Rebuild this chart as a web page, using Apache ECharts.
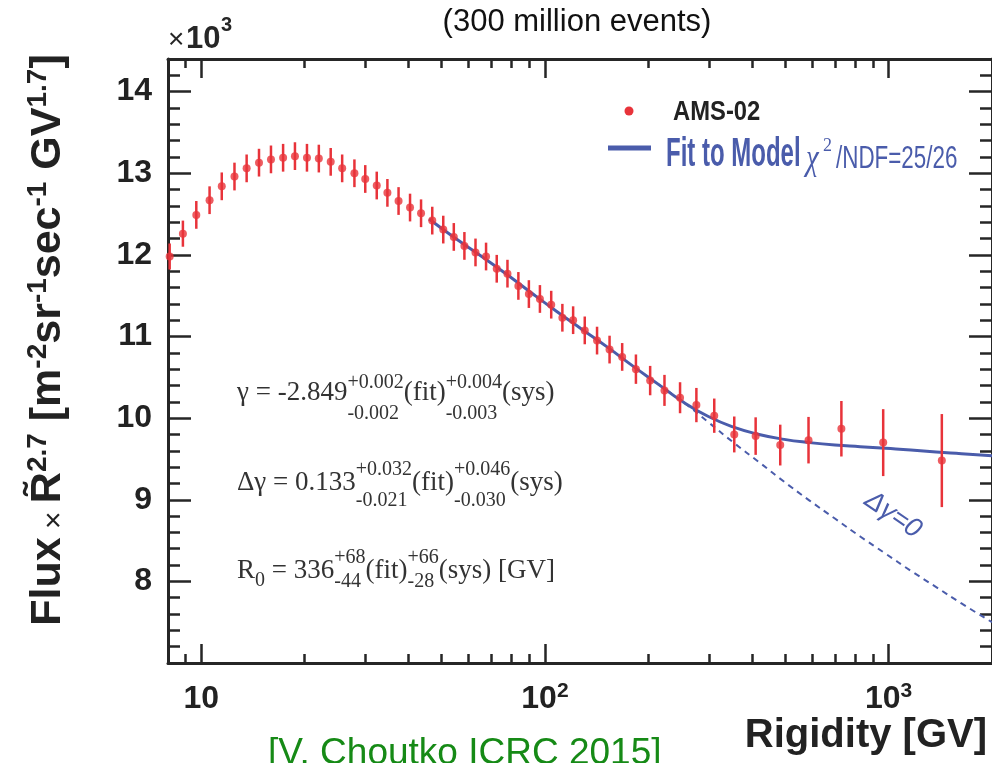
<!DOCTYPE html>
<html>
<head>
<meta charset="utf-8">
<script src="https://cdn.jsdelivr.net/npm/echarts@6/dist/echarts.min.js"></script>
<style>
  html, body { margin: 0; padding: 0; background: #fff; }
  #main { width: 992px; height: 763px; }
</style>
</head>
<body>
<div id="main"></div>
<script>
// proton flux x R^2.7 (units of 10^3)
var rigidity = [8.09, 8.84, 9.67, 10.57, 11.47, 12.49, 13.55, 14.72, 15.95, 17.3, 18.73, 20.3, 21.98, 23.8,
  25.7, 27.9, 30.0, 32.4, 34.8, 37.5, 40.5, 43.6, 47.0, 50.6, 54.3, 58.3, 62.8, 67.4, 72.4, 77.8, 83.7, 89.8,
  96.7, 104.3, 112.4, 120.8, 130.6, 141.8, 154.2, 167.8, 184, 202.4, 222.8, 247.3, 275.9, 311, 355.6, 410.4,
  483.9, 584.9, 729, 964.7, 1429];
var flux = [11.98, 12.26, 12.49, 12.67, 12.84, 12.96, 13.06, 13.13, 13.17, 13.19, 13.21, 13.19, 13.18, 13.14,
  13.06, 13.00, 12.93, 12.85, 12.76, 12.66, 12.58, 12.51, 12.42, 12.31, 12.22, 12.11, 12.03, 11.98, 11.83, 11.77,
  11.62, 11.52, 11.46, 11.39, 11.23, 11.20, 11.075, 10.95, 10.84, 10.75, 10.60, 10.46, 10.34, 10.25, 10.16, 10.03,
  9.80, 9.78, 9.67, 9.73, 9.87, 9.70, 9.48];
var fluxErr = [0.16, 0.16, 0.17, 0.17, 0.17, 0.17, 0.17, 0.17, 0.17, 0.17, 0.17, 0.17, 0.17, 0.17,
  0.17, 0.17, 0.17, 0.17, 0.17, 0.17, 0.17, 0.17, 0.17, 0.17, 0.17, 0.17, 0.17, 0.17, 0.17, 0.17,
  0.17, 0.17, 0.17, 0.17, 0.17, 0.17, 0.17, 0.17, 0.17, 0.17, 0.18, 0.18, 0.19, 0.19, 0.21, 0.21,
  0.22, 0.23, 0.25, 0.285, 0.34, 0.41, 0.57];

// broken power-law fit and the unbroken (delta gamma = 0) extrapolation
var fitR = [46, 55, 65, 77, 91, 108, 128, 152, 180, 213, 252, 299, 354, 420, 497, 589, 698, 827, 980, 1161, 1376, 1630, 2000];
var fitFlux = [12.44, 12.20, 11.99, 11.77, 11.54, 11.31, 11.09, 10.87, 10.64, 10.42, 10.20, 10.02, 9.89, 9.80,
  9.74, 9.70, 9.67, 9.65, 9.63, 9.61, 9.585, 9.565, 9.54];
var noBreakR = [213, 252, 299, 354, 420, 497, 589, 698, 827, 980, 1161, 1376, 1630, 2000];
var noBreakFlux = [10.42, 10.20, 9.95, 9.70, 9.46, 9.22, 8.99, 8.77, 8.55, 8.34, 8.13, 7.93, 7.73, 7.50];

var xMajorTicks = [10, 100, 1000];
var xMinorTicks = [9, 20, 30, 40, 50, 60, 70, 80, 90, 200, 300, 400, 500, 600, 700, 800, 900, 2000];
var yMajorTicks = [8, 9, 10, 11, 12, 13, 14];
var yMinorTicks = [7.2, 7.4, 7.6, 7.8, 8.2, 8.4, 8.6, 8.8, 9.2, 9.4, 9.6, 9.8, 10.2, 10.4, 10.6, 10.8,
  11.2, 11.4, 11.6, 11.8, 12.2, 12.4, 12.6, 12.8, 13.2, 13.4, 13.6, 13.8, 14.2];

var R_MIN = 8, R_MAX = 2000;
var red = '#e8333a';
var blue = '#4a5cab';
var ink = '#262626';
var SANS = '"Liberation Sans", Arial, sans-serif';
var SERIF = '"Liberation Serif", "Times New Roman", serif';

var points = rigidity.map(function (r, i) { return [r, flux[i]]; });
var bars = rigidity.map(function (r, i) { return [r, flux[i] - fluxErr[i], flux[i] + fluxErr[i]]; });
var fitLine = fitR.map(function (r, i) { return [r, fitFlux[i]]; });
var noBreakLine = noBreakR.map(function (r, i) { return [r, noBreakFlux[i]]; });

// text measuring for the formula annotations
var measure = document.createElement('canvas').getContext('2d');
function textWidth(s, font) { measure.font = font; return measure.measureText(s).width; }

function label(x, base, s, size, opts) {
  opts = opts || {};
  var font = (opts.style || '') + ' ' + (opts.weight || 'normal') + ' ' + size + 'px ' + (opts.family || SERIF);
  return {
    type: 'text', x: x, y: base - 0.34 * size,
    scaleX: opts.sx || 1,
    style: {
      text: s, font: font, fill: opts.color || '#333',
      align: opts.align || 'left', verticalAlign: 'middle',
      textAlign: opts.align || 'left', textVerticalAlign: 'middle'
    }
  };
}

function formula(x, base, supDy, subDy, parts) {
  var big = 27, small = 20, els = [], cx = x;
  var bigFont = big + 'px ' + SERIF, smallFont = small + 'px ' + SERIF;
  parts.forEach(function (p) {
    if (typeof p === 'string') {
      els.push(label(cx, base, p, big));
      cx += textWidth(p, bigFont);
    } else {
      var w = 0;
      if (p.sup) { els.push(label(cx, base + supDy, p.sup, small)); w = Math.max(w, textWidth(p.sup, smallFont)); }
      if (p.sub) { els.push(label(cx, base + (p.dy || subDy), p.sub, small)); w = Math.max(w, textWidth(p.sub, smallFont)); }
      cx += w;
    }
  });
  return els;
}

var graphics = [];
graphics = graphics.concat(
  formula(237, 401.7, -12, 18.5, ['γ = -2.849', { sup: '+0.002', sub: '-0.002' }, '(fit)', { sup: '+0.004', sub: '-0.003' }, '(sys)']),
  formula(237, 491.7, -15, 16, ['Δγ = 0.133', { sup: '+0.032', sub: '-0.021' }, '(fit)', { sup: '+0.046', sub: '-0.030' }, '(sys)']),
  formula(237, 580, -15, 9, ['R', { sub: '0', dy: 8 }, ' = 336', { sup: '+68', sub: '-44' }, '(fit)', { sup: '+66', sub: '-28' }, '(sys) [GV]'])
);

// legend
graphics.push(
  { type: 'circle', shape: { cx: 629, cy: 111, r: 4.5 }, style: { fill: red } },
  label(673, 121.7, 'AMS-02', 28, { weight: 'bold', family: SANS, color: '#222', sx: 0.85 }),
  { type: 'line', shape: { x1: 608, y1: 148, x2: 651, y2: 148 }, style: { stroke: blue, lineWidth: 5 } },
  label(666, 169, 'Fit to Model', 40, { weight: 'bold', family: SANS, color: blue, sx: 0.6 }),
  label(806, 172, 'χ', 36, { style: 'italic', family: SERIF, color: blue, sx: 0.8 }),
  label(823, 152, '2', 18, { family: SERIF, color: blue }),
  label(836, 170, '/NDF=25/26', 32, { family: SANS, color: blue, sx: 0.7 })
);

// other texts
graphics.push(
  { type: 'text', x: 893, y: 515, rotation: -0.6,
    style: { text: 'Δγ=0', font: 'italic 27px ' + SANS, fill: blue, align: 'center', verticalAlign: 'middle', textAlign: 'center', textVerticalAlign: 'middle' } },
  label(577, 33, '(300 million events)', 31, { family: SANS, color: '#111', align: 'center' }),
  label(168, 50, '×', 28, { family: SANS, color: ink }),
  label(186, 50, '10', 31, { weight: 'bold', family: SANS, color: ink }),
  label(221, 32, '3', 20, { weight: 'bold', family: SANS, color: ink }),
  label(987, 750, 'Rigidity [GV]', 40, { weight: 'bold', family: SANS, color: '#222', align: 'right' }),
  label(268, 766, '[V. Choutko ICRC 2015]', 37, { family: SANS, color: '#168a16' }),
  { type: 'text', x: 47, y: 340, rotation: Math.PI / 2,
    style: {
      text: '{b|Flux}{x| × }{b|R\u0303}{s|2.7}{b| [m}{s|-2}{b|sr}{s|-1}{b|sec}{s|-1}{b| GV}{s|1.7}{b|]}',
      align: 'center', verticalAlign: 'middle', textAlign: 'center', textVerticalAlign: 'middle',
      rich: {
        b: { fontSize: 43, fontWeight: 'bold', fontFamily: 'Liberation Sans', fill: '#222', color: '#222', verticalAlign: 'bottom', lineHeight: 46 },
        x: { fontSize: 30, fontFamily: 'Liberation Sans', fill: '#222', color: '#222', verticalAlign: 'bottom', lineHeight: 40 },
        s: { fontSize: 28, fontWeight: 'bold', fontFamily: 'Liberation Sans', fill: '#222', color: '#222', verticalAlign: 'top', lineHeight: 28 }
      }
    } }
);

// tick helper axes run in log10(R) so the decade ticks sit at 2..9 x 10^n
function logTickAxis(position, ticks, len, withLine, withLabels) {
  return {
    type: 'value', min: Math.log10(R_MIN), max: Math.log10(R_MAX), position: position,
    axisLine: { show: withLine, onZero: false, lineStyle: { color: ink, width: 3 } },
    axisTick: { show: true, inside: true, length: len, customValues: ticks.map(Math.log10), lineStyle: { color: ink, width: 2.5 } },
    axisLabel: {
      show: withLabels, customValues: xMajorTicks.map(Math.log10), margin: 18,
      formatter: function (v) {
        var p = Math.round(v);
        return p === 1 ? '{b|10}' : '{b|10}{s|' + p + '}';
      },
      rich: {
        b: { fontSize: 32, fontWeight: 'bold', fontFamily: 'Liberation Sans', color: '#222', verticalAlign: 'bottom', lineHeight: 34 },
        s: { fontSize: 21, fontWeight: 'bold', fontFamily: 'Liberation Sans', color: '#222', verticalAlign: 'top', lineHeight: 22 }
      }
    },
    splitLine: { show: false }
  };
}

function yAxisDef(position, ticks, len, withLine, withLabels) {
  return {
    type: 'value', min: 7, max: 14.4, position: position,
    axisLine: { show: withLine, onZero: false, lineStyle: { color: ink, width: 3 } },
    axisTick: { show: true, inside: true, length: len, customValues: ticks, lineStyle: { color: ink, width: 2.5 } },
    axisLabel: {
      show: withLabels, customValues: yMajorTicks, margin: 16,
      fontSize: 32, fontWeight: 'bold', fontFamily: 'Liberation Sans', color: '#222'
    },
    splitLine: { show: false }
  };
}

var chart = echarts.init(document.getElementById('main'), null, { renderer: 'canvas' });
chart.setOption({
  animation: false,
  backgroundColor: '#fff',
  grid: { left: 168, top: 59, right: -4, bottom: 100 },
  xAxis: [
    { type: 'log', logBase: 10, min: R_MIN, max: R_MAX, show: false },
    logTickAxis('bottom', xMajorTicks, 19, true, true),
    logTickAxis('bottom', xMinorTicks, 9, false, false),
    logTickAxis('top', xMajorTicks, 19, true, false),
    logTickAxis('top', xMinorTicks, 9, false, false)
  ],
  yAxis: [
    yAxisDef('left', yMajorTicks, 23, true, true),
    yAxisDef('left', yMinorTicks, 12, false, false),
    yAxisDef('right', yMajorTicks, 23, true, false),
    yAxisDef('right', yMinorTicks, 12, false, false)
  ],
  series: [
    {
      name: 'Δγ=0', type: 'line', data: noBreakLine, showSymbol: false, smooth: true,
      lineStyle: { color: blue, width: 2, type: [6, 5] }, z: 2
    },
    {
      name: 'Fit to Model', type: 'line', data: fitLine, showSymbol: false, smooth: true,
      lineStyle: { color: blue, width: 3 }, z: 3
    },
    {
      name: 'AMS-02 error', type: 'custom', data: bars, encode: { x: 0, y: [1, 2] }, z: 4,
      renderItem: function (params, api) {
        var lo = api.coord([api.value(0), api.value(1)]);
        var hi = api.coord([api.value(0), api.value(2)]);
        return {
          type: 'line',
          shape: { x1: lo[0], y1: lo[1], x2: hi[0], y2: hi[1] },
          style: { stroke: red, lineWidth: 2.5 }
        };
      }
    },
    {
      name: 'AMS-02', type: 'scatter', data: points, symbolSize: 8,
      itemStyle: { color: red }, z: 5
    }
  ],
  graphic: { elements: graphics }
});
</script>
</body>
</html>
